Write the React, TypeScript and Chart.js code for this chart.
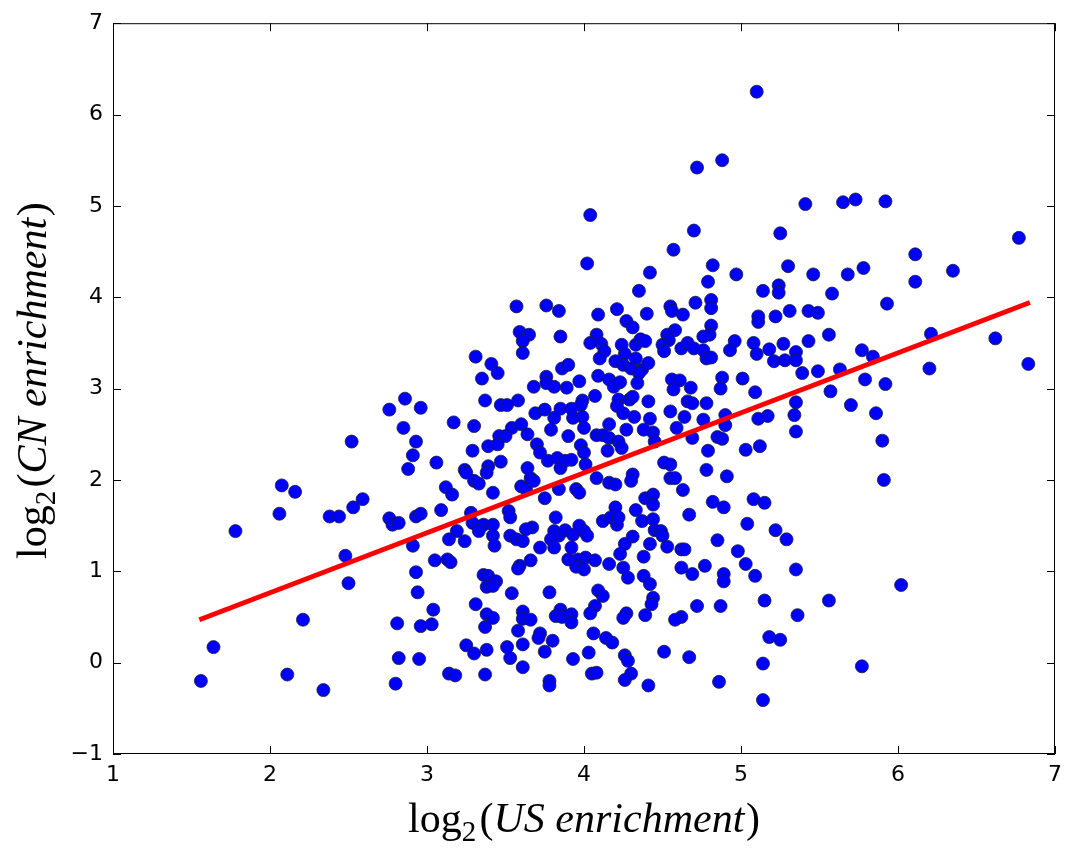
import React, { useEffect, useRef } from "react";
import { Chart, registerables } from "chart.js";

Chart.register(...registerables);

// log2(US enrichment) values
const US_ENRICHMENT: number[] = [
  2.86, 2.76, 2.96, 2.85, 2.52, 2.93, 2.91, 2.88, 2.075, 2.16, 2.06, 1.78, 2.38, 2.44, 2.53, 2.59, 2.76, 2.78, 2.82, 2.93,
  2.91, 2.48, 2.5, 2.93, 2.94, 2.21, 2.81, 2.96, 1.64, 2.82, 2.95, 1.56, 2.11, 2.34, 2.8,
  3.57, 3.59, 3.65, 3.61, 3.61, 3.31, 3.41, 3.45, 3.35, 3.68, 3.37, 3.47, 3.51, 3.58, 3.69, 3.17, 3.3, 3.54, 3.6,
  3.46, 3.5, 3.64, 3.7, 3.39, 3.45, 3.29, 3.06, 3.47, 3.24, 3.39, 3.64, 3.25, 3.38, 3.3, 3.33, 3.66, 3.6, 3.12, 3.16,
  3.42, 3.63, 3.09, 2.96, 3.28, 3.29, 3.36, 3.42, 3.52, 3.53, 3.67, 3.63, 3.33, 3.19, 3.14, 3.24, 3.42, 3.43, 3.53,
  3.57, 3.61, 3.05, 3.13, 3.15, 3.59, 3.66,
  4.35, 3.76, 3.84, 4.09, 4.21, 4.4, 4.27, 4.31, 3.85, 4.08, 4.04, 4.11, 4.13, 4.1, 4.24, 4.33, 4.36, 4.39, 4.26, 4.33,
  4.2, 4.25, 4.3, 4.37, 4.41, 4.35, 3.86, 3.9, 4.09, 3.76, 3.76, 3.81, 3.89, 3.97, 4.16, 4.19, 4.23, 4.34, 4.07, 3.99,
  3.98, 4.22, 4.29, 4.31, 4.21, 4.25, 4.32, 4.41, 4.42, 3.75, 3.85, 3.92, 3.81, 3.93, 3.99, 4.16, 3.79, 4.0, 4.27, 4.44,
  4.79, 5.14, 5.24, 5.24, 4.71, 4.81, 4.81, 4.55, 4.56, 4.63, 5.11, 5.11, 5.22, 5.31, 4.81, 4.8, 4.76, 4.58, 4.53, 4.54,
  4.5, 4.51, 4.62, 4.66, 4.7, 4.76, 4.78, 4.81, 4.96, 4.93, 5.08, 5.1, 5.18, 5.27, 5.21, 5.28, 5.35, 5.35, 4.56, 4.61,
  4.57, 4.68, 4.88, 4.87, 5.01, 5.09, 4.66, 4.69, 4.78, 4.55, 4.64, 4.76, 4.9, 4.9, 5.11, 5.17, 4.59,
  3.9, 4.08, 4.12, 4.16, 4.22, 4.38, 4.45, 3.72, 3.98, 4.0, 4.15, 4.24, 3.77, 3.83, 3.85, 3.88, 3.92, 4.01, 3.68, 3.84,
  3.75, 3.95, 3.97, 4.08, 4.16, 4.2, 4.31, 4.3, 4.51, 4.39, 4.44, 4.44, 4.2, 3.82, 4.12, 4.17, 4.21, 4.22, 4.33, 4.37,
  4.44, 4.45, 3.81, 3.84, 3.88, 3.93, 3.97, 4.0, 4.02, 3.79, 3.72, 3.81, 3.92, 4.26, 4.31, 4.42, 3.9, 3.96, 4.01, 4.07,
  4.23, 4.38, 3.95, 4.16, 4.25,
  4.69, 4.85, 4.88, 4.79, 5.03, 5.12, 4.55, 4.78, 4.91, 4.55, 4.58, 4.63, 4.82, 4.89, 5.08, 5.15, 4.67, 5.04, 5.22, 5.29,
  4.49, 4.5, 4.53, 4.62, 4.64, 4.85, 4.98, 4.62, 4.77, 5.03, 5.35,
  3.36, 3.39, 3.44, 3.38, 3.42, 3.58, 3.54, 3.31, 3.04, 3.03, 3.38, 3.42, 3.37, 3.61, 3.61, 3.66, 3.58, 3.61, 3.25, 3.3,
  3.38, 3.51, 3.53, 3.61, 3.14, 3.18, 3.37,
  4.0, 4.28, 4.38, 4.42, 3.78, 4.09, 4.12, 4.44, 4.43, 3.85, 3.82, 3.86, 3.92, 3.92, 4.07, 4.04, 4.27, 4.25, 4.39, 3.72,
  3.71, 3.8, 3.75, 4.06, 4.14, 4.18, 4.51, 4.03, 3.93, 4.26, 4.28, 4.05, 4.08, 4.3, 4.26, 3.78, 3.78, 4.41,
  4.69, 4.89, 4.89, 5.09, 4.72, 4.87, 5.15, 4.62, 4.58, 5.36, 5.18, 5.25, 4.67, 5.14, 4.86, 5.14,
  6.11, 5.58, 5.93, 5.43, 5.49, 5.56, 6.21, 6.62, 5.43, 5.77, 5.84, 5.39, 5.49, 5.63, 6.2, 6.83, 5.79, 5.92, 5.57, 5.35,
  5.34, 5.7, 5.86, 5.35, 5.9, 5.91, 6.02, 5.56, 5.77,
  5.1, 4.72, 4.88, 4.04, 5.41, 5.65, 5.73, 5.92, 4.7, 5.25, 6.77, 4.57, 4.02, 4.42, 4.82, 4.97, 5.3, 5.46, 5.68, 5.78,
  6.11, 6.35,
];

// log2(CN enrichment) values
const CN_ENRICHMENT: number[] = [
  2.89, 2.77, 2.79, 2.57, 2.42, 2.42, 2.27, 2.12, 1.94, 1.87, 1.63, 1.44, 1.6, 1.6, 1.7, 1.79, 1.58, 1.51, 1.53, 1.6,
  1.28, 1.17, 0.87, 0.99, 0.77, 0.47, 0.43, 0.4, 0.17, 0.05, 0.04, -0.2, -0.13, -0.3, -0.23,
  3.9, 3.62, 3.59, 3.52, 3.39, 3.35, 3.27, 3.17, 3.11, 3.02, 2.87, 2.82, 2.82, 2.87, 2.73, 2.63, 2.59, 2.57, 2.61,
  2.48, 2.48, 2.5, 2.39, 2.37, 2.39, 2.32, 2.19, 2.2, 2.11, 2.15, 2.13, 2.08, 2.08, 1.99, 1.96, 2.02, 1.93, 1.92, 1.84,
  1.86, 1.9, 1.67, 1.63, 1.64, 1.53, 1.51, 1.51, 1.66, 1.59, 1.48, 1.46, 1.44, 1.44, 1.35, 1.33, 1.39, 1.28, 1.39,
  1.35, 1.33, 1.12, 1.13, 1.1, 1.06, 1.12,
  4.07, 3.91, 3.85, 3.81, 3.87, 3.82, 3.74, 3.67, 3.57, 3.59, 3.5, 3.49, 3.41, 3.33, 3.48, 3.48, 3.54, 3.52, 3.38, 3.33,
  3.3, 3.26, 3.22, 3.21, 3.28, 3.17, 3.22, 3.26, 3.14, 3.13, 3.06, 3.02, 3.01, 3.08, 3.1, 3.02, 3.07, 3.06, 2.92, 2.87,
  2.82, 2.88, 2.88, 2.91, 2.81, 2.73, 2.69, 2.86, 2.67, 2.77, 2.78, 2.78, 2.68, 2.68, 2.69, 2.61, 2.55, 2.57, 2.55, 2.52,
  4.17, 4.07, 4.13, 4.05, 3.94, 3.97, 3.88, 3.9, 3.85, 3.81, 3.79, 3.73, 3.79, 3.85, 3.69, 3.59, 3.57, 3.64, 3.59, 3.53,
  3.48, 3.41, 3.44, 3.5, 3.44, 3.42, 3.33, 3.34, 3.52, 3.42, 3.5, 3.38, 3.43, 3.49, 3.3, 3.31, 3.4, 3.31, 3.1, 3.09,
  2.99, 3.01, 3.12, 3.0, 3.11, 2.96, 2.86, 2.84, 2.84, 2.75, 2.69, 2.66, 2.71, 2.6, 2.67, 2.7, 2.57,
  2.48, 2.49, 2.49, 2.46, 2.42, 2.55, 2.42, 2.3, 2.38, 2.3, 2.32, 2.35, 2.21, 2.24, 2.13, 2.21, 2.22, 2.17, 1.99, 1.9,
  1.8, 1.9, 1.86, 2.02, 1.97, 1.95, 2.06, 1.99, 2.19, 1.8, 1.84, 1.73, 1.7, 1.59, 1.55, 1.59, 1.51, 1.59, 1.67, 1.55,
  1.57, 1.45, 1.44, 1.39, 1.45, 1.4, 1.5, 1.44, 1.39, 1.35, 1.26, 1.26, 1.26, 1.3, 1.38, 1.3, 1.13, 1.13, 1.15, 1.12,
  1.19, 1.16, 1.05, 1.08, 1.04,
  2.46, 2.47, 2.45, 2.32, 2.33, 2.37, 2.17, 2.11, 2.04, 2.02, 2.02, 1.89, 1.76, 1.7, 1.79, 1.75, 1.62, 1.52, 1.45, 1.35,
  1.44, 1.39, 1.27, 1.24, 1.24, 1.34, 1.22, 1.04, 1.06, 1.08, 1.02,
  0.96, 0.95, 0.89, 0.83, 0.84, 1.03, 0.76, 0.64, 0.58, 0.42, 0.53, 0.49, 0.39, 0.56, 0.48, 0.47, 0.35, 0.2, 0.19, 0.1,
  0.14, 0.17, 0.05, -0.05, -0.12, -0.14, -0.13,
  1.02, 0.93, 0.95, 0.86, 0.77, 0.79, 0.73, 0.71, 0.64, 0.58, 0.51, 0.5, 0.53, 0.44, 0.62, 0.54, 0.54, 0.49, 0.52, 0.32,
  0.27, 0.24, 0.12, 0.32, 0.27, 0.22, 0.12, 0.11, 0.04, 0.08, 0.02, -0.12, -0.11, -0.12, -0.19, -0.2, -0.25, -0.25,
  0.97, 0.97, 0.89, 0.95, 0.62, 0.62, 0.68, 0.5, 0.47, 0.52, 0.28, 0.25, 0.06, -0.01, -0.21, -0.41,
  4.17, 4.04, 3.93, 3.85, 3.83, 3.59, 3.6, 3.55, 3.52, 3.42, 3.35, 3.17, 3.19, 3.21, 3.22, 3.27, 3.1, 3.05, 2.97, 2.85,
  2.71, 2.82, 2.73, 2.53, 2.43, 2.0, 0.85, 0.68, -0.04,
  6.25, 5.42, 5.5, 4.9, 5.02, 5.04, 5.07, 5.05, 4.73, 4.7, 4.65, 4.52, 4.37, 4.27, 4.35, 4.25, 4.34, 4.25, 4.25, 4.32,
  4.47, 4.29,
];

// least-squares fit line
const FIT_X: number[] = [1.55, 6.84];
const FIT_SLOPE = 0.6565;
const FIT_INTERCEPT = -0.548;

const X_TICKS: number[] = [1, 2, 3, 4, 5, 6, 7];
const Y_TICKS: number[] = [-1, 0, 1, 2, 3, 4, 5, 6, 7];

const X_LABEL_VAR = "US enrichment";
const Y_LABEL_VAR = "CN enrichment";
const LABEL_FN = "log";
const LABEL_SUB = "2";

const SERIF = '"Liberation Serif", "DejaVu Serif", serif';
const LABEL_SIZE = 42;

function drawMathLabel(ctx: CanvasRenderingContext2D, varText: string) {
  const parts = [
    { t: LABEL_FN, f: `${LABEL_SIZE}px ${SERIF}`, dy: 0, gap: 0 },
    { t: LABEL_SUB, f: `${Math.round(LABEL_SIZE * 0.7)}px ${SERIF}`, dy: LABEL_SIZE * 0.22, gap: LABEL_SIZE * 0.08 },
    { t: "(", f: `${LABEL_SIZE}px ${SERIF}`, dy: 0, gap: 0 },
    { t: varText, f: `italic ${LABEL_SIZE}px ${SERIF}`, dy: 0, gap: LABEL_SIZE * 0.04 },
    { t: ")", f: `${LABEL_SIZE}px ${SERIF}`, dy: 0, gap: 0 },
  ];
  let total = 0;
  const widths = parts.map((p) => {
    ctx.font = p.f;
    const w = ctx.measureText(p.t).width + p.gap;
    total += w;
    return w;
  });
  let x = -total / 2;
  ctx.textBaseline = "alphabetic";
  ctx.textAlign = "left";
  ctx.fillStyle = "#000";
  parts.forEach((p, i) => {
    ctx.font = p.f;
    ctx.fillText(p.t, x, p.dy);
    x += widths[i];
  });
}

const framePlugin = {
  id: "mplFrame",
  afterDraw(chart: any) {
    const { ctx, chartArea } = chart;
    const { left, right, top, bottom } = chartArea;
    const xs = chart.scales.x;
    const ys = chart.scales.y;
    ctx.save();
    ctx.strokeStyle = "#000";
    ctx.lineWidth = 1;
    ctx.strokeRect(left + 0.5, top + 0.5, right - left - 1, bottom - top - 1);
    const TL = 8;
    ctx.beginPath();
    X_TICKS.forEach((v) => {
      const px = Math.round(xs.getPixelForValue(v)) + 0.5;
      ctx.moveTo(px, bottom);
      ctx.lineTo(px, bottom - TL);
      ctx.moveTo(px, top);
      ctx.lineTo(px, top + TL);
    });
    Y_TICKS.forEach((v) => {
      const py = Math.round(ys.getPixelForValue(v)) + 0.5;
      ctx.moveTo(left, py);
      ctx.lineTo(left + TL, py);
      ctx.moveTo(right, py);
      ctx.lineTo(right - TL, py);
    });
    ctx.stroke();

    // x axis label
    ctx.save();
    ctx.translate((left + right) / 2, 832);
    drawMathLabel(ctx, X_LABEL_VAR);
    ctx.restore();
    // y axis label
    ctx.save();
    ctx.translate(46, (top + bottom) / 2 - 8);
    ctx.rotate(-Math.PI / 2);
    drawMathLabel(ctx, Y_LABEL_VAR);
    ctx.restore();
    ctx.restore();
  },
};

export default function App() {
  const ref = useRef<HTMLCanvasElement | null>(null);
  useEffect(() => {
    if (!ref.current) return;
    const points = US_ENRICHMENT.map((x, i) => ({ x, y: CN_ENRICHMENT[i] }));
    const fit = FIT_X.map((x) => ({ x, y: FIT_INTERCEPT + FIT_SLOPE * x }));
    const tickFont = { family: '"DejaVu Sans", sans-serif', size: 22 };
    const chart = new Chart(ref.current, {
      type: "scatter",
      data: {
        datasets: [
          {
            type: "line",
            label: "fit",
            data: fit,
            borderColor: "#ff0000",
            borderWidth: 5,
            pointRadius: 0,
            fill: false,
            order: 0,
          } as any,
          {
            label: "genes",
            data: points,
            backgroundColor: "#0000ff",
            borderColor: "#1a1a40",
            borderWidth: 0.8,
            pointRadius: 6.5,
            order: 1,
          },
        ],
      },
      options: {
        animation: false,
        responsive: false,
        devicePixelRatio: 1,
        layout: { padding: { top: 21, right: 13, left: 0, bottom: 0 } },
        plugins: { legend: { display: false }, tooltip: { enabled: false } },
        scales: {
          x: {
            type: "linear",
            min: 1,
            max: 7,
            grid: { display: false, drawTicks: false, tickLength: 0 },
            border: { display: false },
            afterBuildTicks: (s: any) => {
              s.ticks = X_TICKS.map((v) => ({ value: v }));
            },
            afterFit: (s: any) => {
              s.height = 94;
            },
            ticks: {
              color: "#000",
              font: tickFont,
              padding: 8,
              maxRotation: 0,
              callback: (v: any) => String(v),
            },
          },
          y: {
            type: "linear",
            min: -1,
            max: 7,
            grid: { display: false, drawTicks: false, tickLength: 0 },
            border: { display: false },
            afterBuildTicks: (s: any) => {
              s.ticks = Y_TICKS.map((v) => ({ value: v }));
            },
            afterFit: (s: any) => {
              s.width = 113;
            },
            ticks: {
              color: "#000",
              font: tickFont,
              padding: 10,
              callback: (v: any) => (Number(v) < 0 ? "\u2212" + Math.abs(Number(v)) : String(v)),
            },
          },
        },
      },
      plugins: [framePlugin],
    });
    return () => chart.destroy();
  }, []);
  return (
    <div style={{ position: "fixed", left: 0, top: 0, width: 1070, height: 848, background: "#fff" }}>
      <canvas ref={ref} width={1070} height={848} style={{ display: "block", width: 1070, height: 848 }} />
    </div>
  );
}
